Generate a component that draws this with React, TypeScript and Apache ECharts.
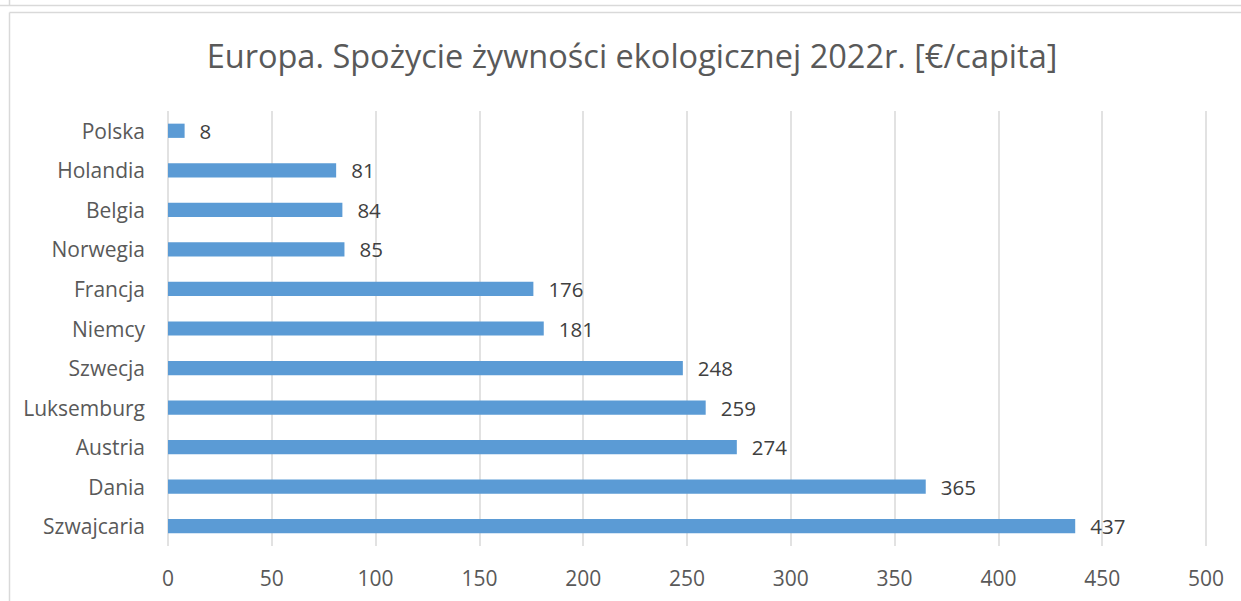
import React, { useEffect, useRef } from "react";
import * as echarts from "echarts";

const categories = [
  "Polska",
  "Holandia",
  "Belgia",
  "Norwegia",
  "Francja",
  "Niemcy",
  "Szwecja",
  "Luksemburg",
  "Austria",
  "Dania",
  "Szwajcaria",
];
const values = [8, 81, 84, 85, 176, 181, 248, 259, 274, 365, 437];
const titleText = "Europa. Spożycie żywności ekologicznej 2022r. [€/capita]";

const FONT = "'Open Sans', sans-serif";

export default function App() {
  const ref = useRef<HTMLDivElement>(null);
  useEffect(() => {
    document.body.style.margin = "0";
    const chart = echarts.init(ref.current!, null, { renderer: "svg" });
    chart.setOption({
      animation: false,
      backgroundColor: "#ffffff",
      graphic: [
        {
          type: "line",
          shape: { x1: 0, y1: 5.5, x2: 1241, y2: 5.5 },
          style: { stroke: "#d9d9d9", lineWidth: 1.5 },
        },
        {
          type: "line",
          shape: { x1: 9.5, y1: 0, x2: 9.5, y2: 5.5 },
          style: { stroke: "#d9d9d9", lineWidth: 1.5 },
        },
        {
          type: "line",
          shape: { x1: 9.5, y1: 12.5, x2: 1241, y2: 12.5 },
          style: { stroke: "#d9d9d9", lineWidth: 1.5 },
        },
        {
          type: "line",
          shape: { x1: 9.5, y1: 12.5, x2: 9.5, y2: 601 },
          style: { stroke: "#d9d9d9", lineWidth: 1.5 },
        },
      ],
      title: {
        text: titleText,
        left: 627,
        top: 34,
        textAlign: "center",
        textStyle: {
          fontFamily: FONT,
          fontSize: 32.5,
          fontWeight: "normal",
          color: "#595959",
        },
      },
      grid: { left: 168, right: 35, top: 111, bottom: 55, containLabel: false },
      xAxis: {
        type: "value",
        min: 0,
        max: 500,
        interval: 50,
        axisLine: { show: false },
        axisTick: { show: false },
        splitLine: { lineStyle: { color: "#d9d9d9", width: 1.5 } },
        axisLabel: {
          margin: 21,
          fontFamily: FONT,
          fontSize: 21,
          color: "#595959",
        },
      },
      yAxis: {
        type: "category",
        data: categories,
        inverse: true,
        axisLine: { show: false },
        axisTick: { show: false },
        axisLabel: {
          margin: 23,
          fontFamily: FONT,
          fontSize: 21,
          color: "#595959",
        },
      },
      series: [
        {
          type: "bar",
          data: values,
          barWidth: "36%",
          itemStyle: { color: "#5b9bd5" },
          label: {
            show: true,
            position: "right",
            distance: 15,
            fontFamily: FONT,
            fontSize: 20.5,
            color: "#404040",
          },
        },
      ],
    });
    return () => chart.dispose();
  }, []);
  return <div ref={ref} style={{ width: 1241, height: 601 }} />;
}
